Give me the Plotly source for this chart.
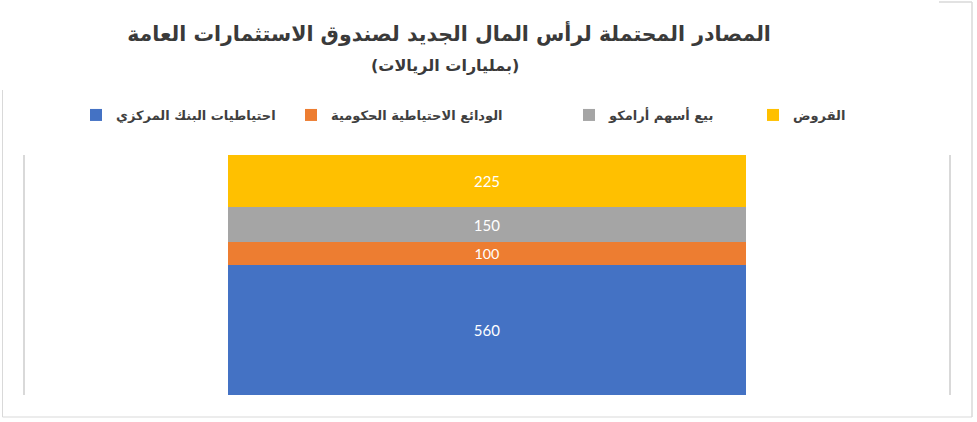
import plotly.graph_objects as go

W, H = 977, 422

category = [""]
series_names = ["احتياطيات البنك المركزي", "الودائع الاحتياطية الحكومية", "بيع أسهم أرامكو", "القروض"]
series_values = [560, 100, 150, 225]
series_colors = ["#4472C4", "#ED7D31", "#A5A5A5", "#FFC000"]
legend_ids = ["legend", "legend2", "legend3", "legend4"]
legend_text_left_px = [115, 330, 608, 792]

title_text = "المصادر المحتملة لرأس المال الجديد لصندوق الاستثمارات العامة"
subtitle_text = "(بمليارات الريالات)"

fig = go.Figure()
for name, val, col, lid in zip(series_names, series_values, series_colors, legend_ids):
    fig.add_trace(go.Bar(
        x=category, y=[val], name=name, legend=lid,
        marker=dict(color=col, line=dict(width=0)),
        text=[str(val)], textposition="inside", insidetextanchor="middle",
        textfont=dict(family="Lato, Open Sans, sans-serif", size=15, color="white"),
        textangle=0, cliponaxis=False, hoverinfo="skip",
    ))

legend_font = dict(family="DejaVu Sans", size=13, color="#404040", weight="bold")
lay_legends = {}
for lid, px in zip(legend_ids, legend_text_left_px):
    lay_legends[lid] = dict(
        x=(px - 39) / W, xanchor="left", y=1 - 115 / H, yanchor="middle",
        orientation="h", font=legend_font, bgcolor="rgba(0,0,0,0)",
        itemclick=False, itemdoubleclick=False,
    )

fig.update_layout(
    width=W, height=H,
    margin=dict(l=0, r=0, t=0, b=0),
    paper_bgcolor="white", plot_bgcolor="white",
    barmode="stack", bargap=0.44,
    showlegend=True,
    title=dict(text=title_text, x=449 / W, xanchor="center", y=1 - 34 / H, yanchor="middle",
               font=dict(family="DejaVu Sans", size=20.5, color="#3a3a3a", weight="bold")),
    xaxis=dict(domain=[25 / W, 949 / W], showticklabels=False, showgrid=False, zeroline=False,
               showline=False, fixedrange=True),
    yaxis=dict(domain=[1 - 395 / H, 1 - 155 / H], range=[0, sum(series_values)],
               showticklabels=False, showgrid=False, zeroline=False, fixedrange=True,
               showline=True, mirror=True, linecolor="#d9d9d9", linewidth=1.5, ticks=""),
    annotations=[dict(text=subtitle_text, x=445 / W, y=1 - 66 / H, xref="paper", yref="paper",
                      xanchor="center", yanchor="middle", showarrow=False,
                      font=dict(family="DejaVu Sans", size=16, color="#3a3a3a", weight="bold"))],
    shapes=[
        dict(type="line", xref="paper", yref="paper", x0=2.5 / W, x1=2.5 / W, y0=1 - 90 / H, y1=1 - 417 / H,
             line=dict(color="#d9d9d9", width=1)),
        dict(type="line", xref="paper", yref="paper", x0=2.5 / W, x1=972 / W, y0=1 - 417 / H, y1=1 - 417 / H,
             line=dict(color="#d9d9d9", width=1)),
        dict(type="line", xref="paper", yref="paper", x0=972 / W, x1=972 / W, y0=1 - 2 / H, y1=1 - 417 / H,
             line=dict(color="#d9d9d9", width=1.5)),
        dict(type="line", xref="paper", yref="paper", x0=939 / W, x1=972 / W, y0=1 - 2 / H, y1=1 - 2 / H,
             line=dict(color="#d9d9d9", width=1.5)),
    ],
    **lay_legends,
)

fig.write_html("out.html", config={"displayModeBar": False},
               post_script="document.body.style.margin='0';document.body.style.padding='0';")
